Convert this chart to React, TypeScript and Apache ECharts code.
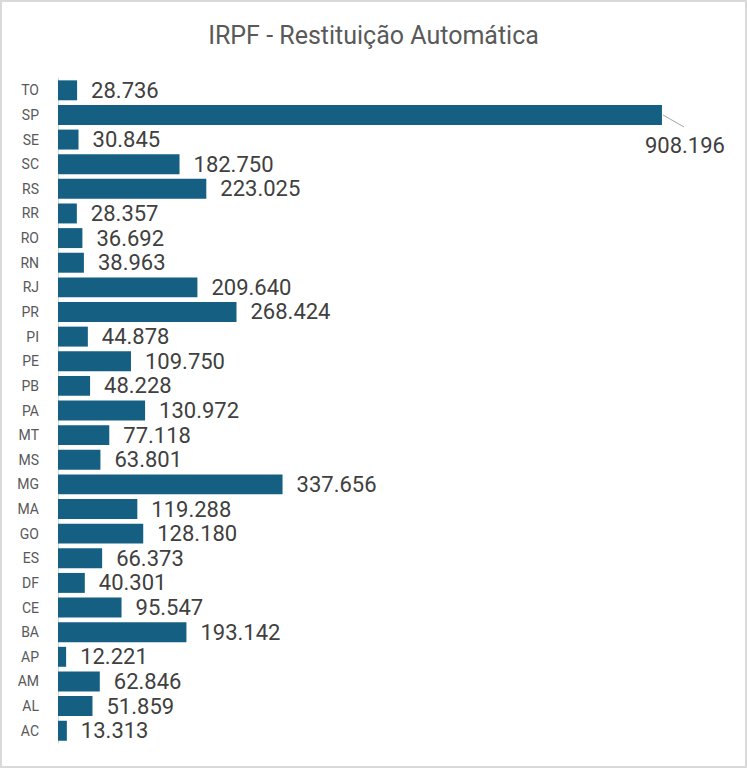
import React, { useEffect, useRef } from "react";
import * as echarts from "echarts";

const categories = ["TO","SP","SE","SC","RS","RR","RO","RN","RJ","PR","PI","PE","PB","PA","MT","MS","MG","MA","GO","ES","DF","CE","BA","AP","AM","AL","AC"];
const values = [28736,908196,30845,182750,223025,28357,36692,38963,209640,268424,44878,109750,48228,130972,77118,63801,337656,119288,128180,66373,40301,95547,193142,12221,62846,51859,13313];
const titleText = "IRPF - Restituição Automática";
const calloutCategory = "SP";

const fmt = (v: number) => v.toLocaleString("pt-BR");

export default function App() {
  const ref = useRef<HTMLDivElement>(null);
  useEffect(() => {
    document.body.style.margin = "0";
    const chart = echarts.init(ref.current!, null, { renderer: "svg" });
    const calloutIdx = categories.indexOf(calloutCategory);
    chart.setOption({
      animation: false,
      backgroundColor: "#ffffff",
      title: {
        text: titleText,
        left: "center",
        top: 16,
        textStyle: { fontFamily: "Roboto", fontWeight: "normal", fontSize: 25, color: "#595959" },
      },
      grid: { left: 56, right: 22, top: 76, bottom: 23, containLabel: false },
      xAxis: {
        type: "value",
        min: 0,
        max: 1000000,
        show: false,
        splitLine: { show: false },
      },
      yAxis: {
        type: "category",
        data: categories,
        inverse: true,
        axisLine: { show: true, lineStyle: { color: "#D9D9D9", width: 1 } },
        axisTick: { show: false },
        axisLabel: { fontFamily: "Roboto", fontSize: 14, color: "#595959", margin: 19 },
      },
      series: [
        {
          type: "bar",
          barCategoryGap: "19%",
          itemStyle: { color: "#156082" },
          data: categories.map((c, i) =>
            c === calloutCategory
              ? { value: values[i], label: { show: false } }
              : { value: values[i] }
          ),
          label: {
            show: true,
            position: "right",
            distance: 14,
            fontFamily: "Roboto",
            fontSize: 22,
            color: "#404040",
            formatter: (p: any) => fmt(p.value),
          },
        },
        {
          type: "custom",
          coordinateSystem: "cartesian2d",
          silent: true,
          data: [[values[calloutIdx], calloutIdx]],
          encode: { x: 0, y: 1 },
          renderItem: (params: any, api: any) => {
            const p = api.coord([api.value(0), api.value(1)]);
            return {
              type: "group",
              children: [
                {
                  type: "line",
                  shape: { x1: p[0] + 1, y1: p[1], x2: p[0] + 22, y2: p[1] + 12 },
                  style: { stroke: "#A6A6A6", lineWidth: 1 },
                },
                {
                  type: "text",
                  x: p[0] + 23,
                  y: p[1] + 31,
                  style: {
                    text: fmt(api.value(0)),
                    fontFamily: "Roboto",
                    fontSize: 22,
                    fill: "#404040",
                    align: "center",
                    verticalAlign: "middle",
                  },
                },
              ],
            };
          },
        },
      ],
    });
    return () => chart.dispose();
  }, []);
  return (
    <div
      ref={ref}
      style={{ width: 747, height: 768, boxSizing: "border-box", border: "2px solid #D9D9D9" }}
    />
  );
}
